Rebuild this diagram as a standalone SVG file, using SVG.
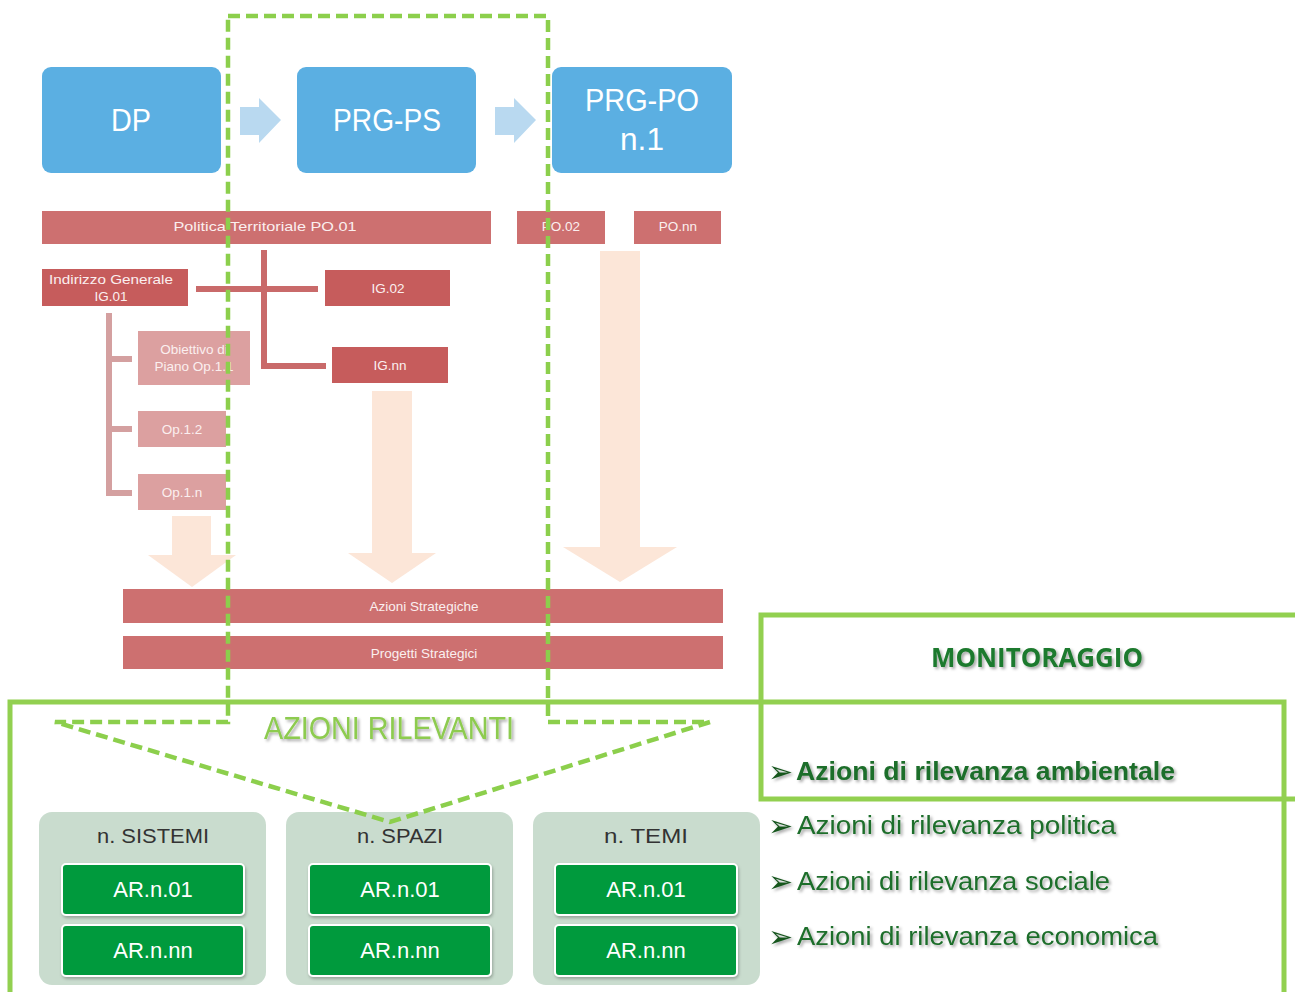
<svg xmlns="http://www.w3.org/2000/svg" width="1295" height="992" viewBox="0 0 1295 992">
<defs>
<style>
.blue{fill:#5BAFE2}
.barr{fill:#CD7070}
.ig{fill:#C65C5C}
.op{fill:#DCA0A0}
.peach{fill:#FCE6D8}
.larrow{fill:#B9D9F0}
.t{font-family:"Liberation Sans",Arial,sans-serif;text-anchor:middle}
.wb{fill:#FFFFFF;font-size:31px}
.wr{fill:#FBEFEF;font-size:13.5px}
.panel{fill:#C9DCCE}
.gbox{fill:#009A3E;stroke:#FFFFFF;stroke-width:2}
.ptitle{fill:#333333;font-size:21px}
.ar{fill:#FFFFFF;font-size:22px}
.bul{font-family:"Liberation Sans",Arial,sans-serif;fill:#1F6E2C;font-size:26px}
.arw{font-family:"DejaVu Sans",sans-serif;fill:#17561F;font-size:30px}
.gline{fill:none;stroke:#92D050;stroke-width:5}
</style>
<filter id="ts" x="-10%" y="-30%" width="120%" height="160%">
<feDropShadow dx="2" dy="2" stdDeviation="1.5" flood-color="#000" flood-opacity="0.35"/>
</filter>
<filter id="bs" x="-10%" y="-10%" width="120%" height="130%">
<feDropShadow dx="1" dy="2" stdDeviation="1.5" flood-color="#000" flood-opacity="0.25"/>
</filter>
</defs>
<rect width="1295" height="992" fill="#FFFFFF"/>

<!-- Blue phase boxes -->
<g id="dp"><rect class="blue" x="42" y="67" width="179" height="106" rx="9"/><text class="t wb" x="131" y="131" textLength="40" lengthAdjust="spacingAndGlyphs">DP</text></g>
<g id="prgps"><rect class="blue" x="297" y="67" width="179" height="106" rx="9"/><text class="t wb" x="387" y="131" textLength="108" lengthAdjust="spacingAndGlyphs">PRG-PS</text></g>
<g id="prgpo"><rect class="blue" x="552" y="67" width="180" height="106" rx="9"/><text class="t wb" x="642" y="111" textLength="114" lengthAdjust="spacingAndGlyphs">PRG-PO</text><text class="t wb" x="642" y="150" textLength="44" lengthAdjust="spacingAndGlyphs">n.1</text></g>

<g id="connectors">
<path class="larrow" d="M240 107 H259 V98 L281 120 L259 143 V135 H240 Z"/>
<path class="larrow" d="M495 107 H514 V98 L536 120 L514 143 V135 H495 Z"/>
<!-- peach down arrows -->
<path class="peach" d="M172 516 H211 V555 H236 L192 587 L148 555 H172 Z"/>
<path class="peach" d="M372 391 H412 V553 H436 L392 583 L348 553 H372 Z"/>
<path class="peach" d="M600 251 H640 V547 H677 L620 582 L563 547 H600 Z"/>
<!-- IG connectors -->
<g fill="none" stroke="#C96A6A" stroke-width="6">
<path d="M196 289 H318"/>
<path d="M264 250 V366 H326"/>
</g>
<g fill="none" stroke="#D4A0A0" stroke-width="6">
<path d="M109 313 V493 H132"/>
<path d="M109 359 H132"/>
<path d="M109 429 H132"/>
</g>
</g>

<!-- Red bars -->
<g id="po01"><rect class="barr" x="42" y="211" width="449" height="33"/><text class="t wr" x="265" y="231" textLength="183" lengthAdjust="spacingAndGlyphs">Politica Territoriale PO.01</text></g>
<g id="po02"><rect class="barr" x="517" y="211" width="88" height="33"/><text class="t wr" x="561" y="231">PO.02</text></g>
<g id="ponn"><rect class="barr" x="634" y="211" width="87" height="33"/><text class="t wr" x="678" y="231">PO.nn</text></g>
<g id="ig01"><rect class="ig" x="42" y="269" width="146" height="37"/><text class="t wr" x="111" y="284" textLength="124" lengthAdjust="spacingAndGlyphs">Indirizzo Generale</text><text class="t wr" x="111" y="301">IG.01</text></g>
<g id="ig02"><rect class="ig" x="325" y="270" width="125" height="36"/><text class="t wr" x="388" y="293">IG.02</text></g>
<g id="ignn"><rect class="ig" x="332" y="347" width="116" height="36"/><text class="t wr" x="390" y="370">IG.nn</text></g>
<g id="op11"><rect class="op" x="138" y="331" width="112" height="54"/><text class="t wr" x="194" y="354">Obiettivo di</text><text class="t wr" x="194" y="371">Piano Op.1.1</text></g>
<g id="op12"><rect class="op" x="138" y="411" width="88" height="36"/><text class="t wr" x="182" y="434">Op.1.2</text></g>
<g id="op1n"><rect class="op" x="138" y="474" width="88" height="36"/><text class="t wr" x="182" y="497">Op.1.n</text></g>
<g id="azstrat"><rect class="barr" x="123" y="589" width="600" height="34"/><text class="t wr" x="424" y="611">Azioni Strategiche</text></g>
<g id="progstrat"><rect class="barr" x="123" y="636" width="600" height="33"/><text class="t wr" x="424" y="658">Progetti Strategici</text></g>

<!-- Big green frames -->
<g id="frames">
<path class="gline" d="M10 992 V702 H1284 V992"/>
<path class="gline" d="M1295 615 H761 V799 H1295"/>
</g>

<!-- Monitoraggio -->
<g id="monitoraggio">
<text x="1037" y="667" text-anchor="middle" font-family="'Open Sans','Liberation Sans',sans-serif" font-weight="bold" font-size="26" fill="#1E7A2E" filter="url(#ts)" textLength="212" lengthAdjust="spacingAndGlyphs">MONITORAGGIO</text>
</g>
<g id="list" filter="url(#ts)">
<text class="arw" x="768" y="782">➢</text>
<text class="bul" x="796" y="780" font-weight="bold" textLength="379" lengthAdjust="spacingAndGlyphs">Azioni di rilevanza ambientale</text>
<text class="arw" x="768" y="836">➢</text>
<text class="bul" x="797" y="834" textLength="319" lengthAdjust="spacingAndGlyphs">Azioni di rilevanza politica</text>
<text class="arw" x="768" y="892">➢</text>
<text class="bul" x="797" y="890" textLength="313" lengthAdjust="spacingAndGlyphs">Azioni di rilevanza sociale</text>
<text class="arw" x="768" y="947">➢</text>
<text class="bul" x="797" y="945" textLength="361" lengthAdjust="spacingAndGlyphs">Azioni di rilevanza economica</text>
</g>

<!-- Azioni rilevanti title -->
<g id="azril">
<text x="389" y="739" text-anchor="middle" font-family="'Liberation Sans',sans-serif" font-size="31" fill="#8DCB4F" filter="url(#ts)" textLength="250" lengthAdjust="spacingAndGlyphs">AZIONI RILEVANTI</text>
</g>

<!-- Panels -->
<g id="sistemi">
<rect class="panel" x="39" y="812" width="227" height="173" rx="13"/>
<text class="t ptitle" x="153" y="843" textLength="112" lengthAdjust="spacingAndGlyphs">n. SISTEMI</text>
<rect class="gbox" x="62" y="864" width="182" height="51" rx="4" filter="url(#bs)"/><text class="t ar" x="153" y="897">AR.n.01</text>
<rect class="gbox" x="62" y="925" width="182" height="51" rx="4" filter="url(#bs)"/><text class="t ar" x="153" y="958">AR.n.nn</text>
</g>
<g id="spazi">
<rect class="panel" x="286" y="812" width="227" height="173" rx="13"/>
<text class="t ptitle" x="400" y="843" textLength="86" lengthAdjust="spacingAndGlyphs">n. SPAZI</text>
<rect class="gbox" x="309" y="864" width="182" height="51" rx="4" filter="url(#bs)"/><text class="t ar" x="400" y="897">AR.n.01</text>
<rect class="gbox" x="309" y="925" width="182" height="51" rx="4" filter="url(#bs)"/><text class="t ar" x="400" y="958">AR.n.nn</text>
</g>
<g id="temi">
<rect class="panel" x="533" y="812" width="227" height="173" rx="13"/>
<text class="t ptitle" x="646" y="843" textLength="84" lengthAdjust="spacingAndGlyphs">n. TEMI</text>
<rect class="gbox" x="555" y="864" width="182" height="51" rx="4" filter="url(#bs)"/><text class="t ar" x="646" y="897">AR.n.01</text>
<rect class="gbox" x="555" y="925" width="182" height="51" rx="4" filter="url(#bs)"/><text class="t ar" x="646" y="958">AR.n.nn</text>
</g>

<!-- Dashed focus outline -->
<g id="focus">
<path d="M228 16 H548 V722 H710 L390 822 L55 722 H228 Z" fill="none" stroke="#8CCF4C" stroke-width="4.5" stroke-dasharray="12 6"/>
</g>
</svg>
